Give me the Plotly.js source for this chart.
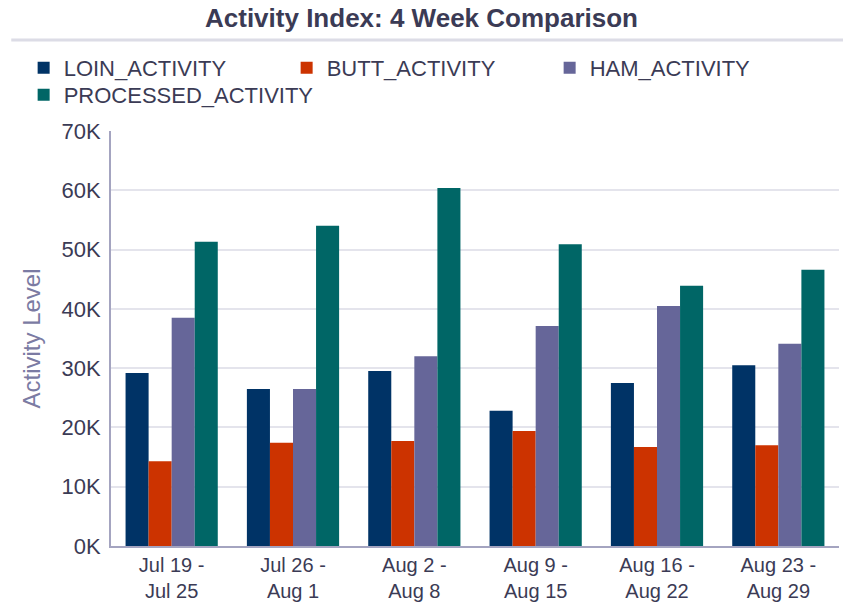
<!DOCTYPE html>
<html>
<head>
<meta charset="utf-8">
<script src="https://cdn.plot.ly/plotly-3.0.1.min.js"></script>
<style>html,body{margin:0;padding:0;background:#fff;}#chart{width:843px;height:604px;}</style>
</head>
<body>
<div id="chart"></div>
<script>
const weeks = ["Jul 19 -<br>Jul 25", "Jul 26 -<br>Aug 1", "Aug 2 -<br>Aug 8", "Aug 9 -<br>Aug 15", "Aug 16 -<br>Aug 22", "Aug 23 -<br>Aug 29"];
const loinActivity = [29200, 26500, 29500, 22800, 27500, 30500];
const buttActivity = [14300, 17400, 17700, 19400, 16700, 17000];
const hamActivity = [38500, 26500, 32000, 37100, 40500, 34100];
const processedActivity = [51300, 54000, 60400, 50900, 43900, 46600];
const seriesNames = ["LOIN_ACTIVITY", "BUTT_ACTIVITY", "HAM_ACTIVITY", "PROCESSED_ACTIVITY"];
const seriesColors = ["#003366", "#cc3300", "#666699", "#006666"];
const yTickVals = [0, 10000, 20000, 30000, 40000, 50000, 60000, 70000];
const yTickText = ["0K", "10K", "20K", "30K", "40K", "50K", "60K", "70K"];

const seriesValues = [loinActivity, buttActivity, hamActivity, processedActivity];
const legendOf = ['legend', 'legend', 'legend', 'legend2'];
const data = seriesValues.map((vals, i) => ({
  type: 'bar',
  name: seriesNames[i],
  x: weeks,
  y: vals,
  legend: legendOf[i],
  marker: {color: seriesColors[i]},
  hoverinfo: 'x+y+name'
}));

const textColor = '#3b3b55';
const legendBase = {orientation: 'h', x: -0.12, xanchor: 'left', yanchor: 'top',
           font: {size: 22, color: textColor}, entrywidth: 218, entrywidthmode: 'pixels',
           traceorder: 'normal', bgcolor: 'rgba(0,0,0,0)'};
const layout = {
  width: 843, height: 604,
  margin: {l: 111, r: 4, t: 131, b: 58},
  paper_bgcolor: '#ffffff', plot_bgcolor: '#ffffff',
  font: {family: '"Liberation Sans", Arial, sans-serif', size: 22, color: textColor},
  title: {text: '<b>Activity Index: 4 Week Comparison</b>', font: {size: 26, color: textColor},
          x: 0.5, xref: 'container', y: 1 - 18/604, yref: 'container', yanchor: 'middle'},
  barmode: 'group', bargap: 0.24, bargroupgap: 0,
  showlegend: true,
  legend: Object.assign({}, legendBase, {y: 1 + 84/415}),
  legend2: Object.assign({}, legendBase, {y: 1 + 57/415, entrywidth: 320}),
  xaxis: {type: 'category', showgrid: false, showline: true, linecolor: '#a4a4c0', linewidth: 2,
          ticks: '', tickfont: {size: 20, color: textColor}, zeroline: false, fixedrange: true},
  yaxis: {range: [0, 70000], tickvals: yTickVals, ticktext: yTickText, showgrid: true,
          gridcolor: '#e4e4ec', gridwidth: 2, showline: true, linecolor: '#a4a4c0', linewidth: 2,
          ticks: '', ticklabelstandoff: 4, tickfont: {size: 22, color: textColor}, zeroline: false,
          title: {text: 'Activity Level', font: {size: 24, color: '#7b7ba3'}, standoff: 14}},
  shapes: [{type: 'line', xref: 'paper', yref: 'paper', x0: -0.137, x1: 1.01,
            y0: 1 + 91/415, y1: 1 + 91/415, line: {color: '#dcdce6', width: 3}}]
};

Plotly.newPlot('chart', data, layout, {displayModeBar: false, responsive: false});
</script>
</body>
</html>
